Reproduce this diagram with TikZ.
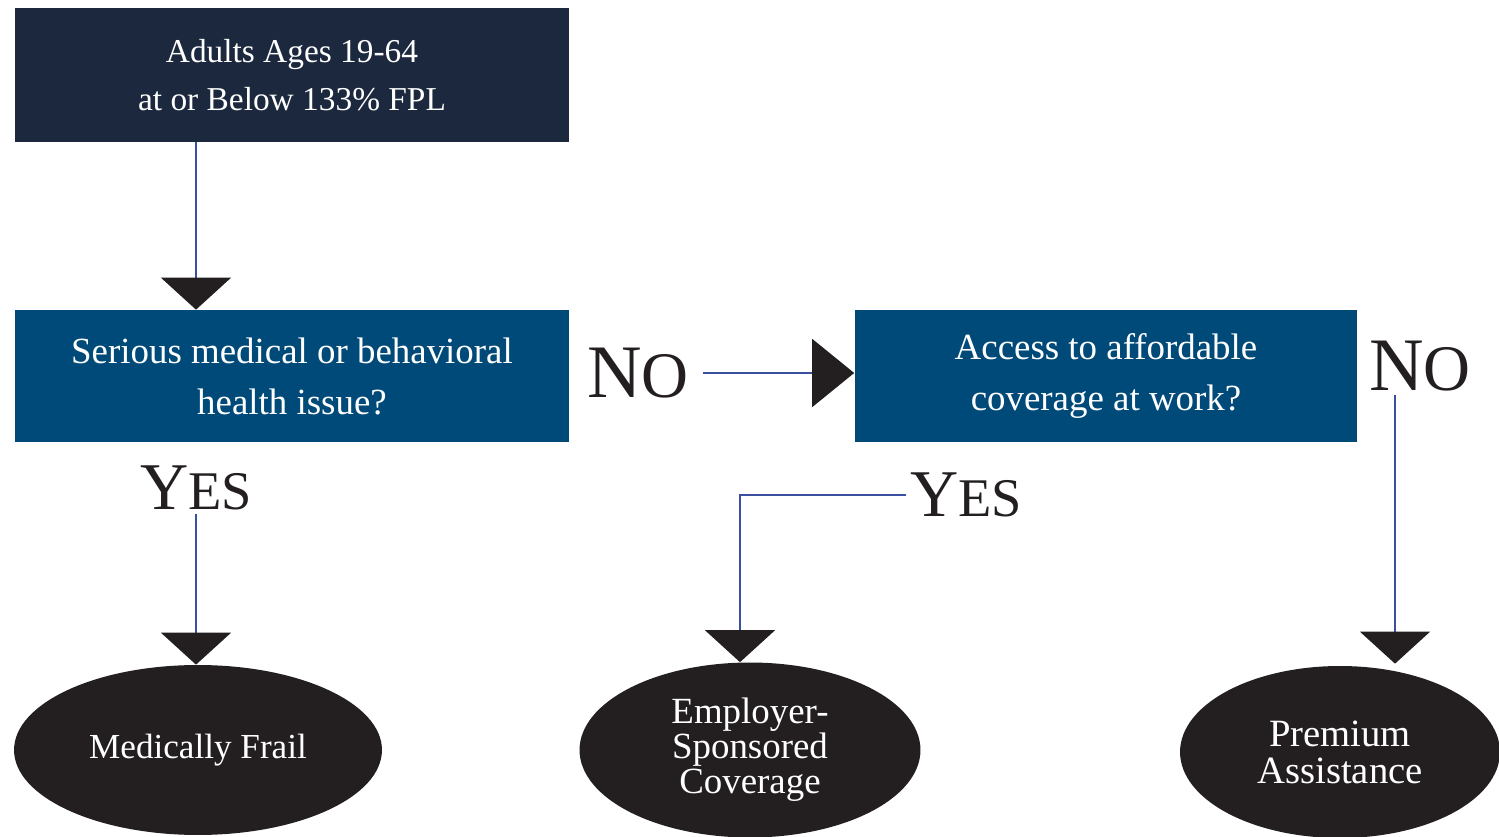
\documentclass[tikz,border=0pt]{standalone}
\usepackage{fontspec}
\setmainfont{Liberation Serif}
\usetikzlibrary{arrows.meta,shapes.geometric}
\definecolor{navy}{HTML}{1B283D}
\definecolor{cobalt}{HTML}{004A7A}
\definecolor{ink}{HTML}{231F20}
\definecolor{wire}{HTML}{3A4FA0}

% smaller capitals for the tail of an answer word
\newcommand\tailcaps[2]{{\fontsize{#1}{#1}\selectfont #2}}

\tikzset{
  topbox/.style={rectangle, fill=navy, text=white, align=center, inner sep=0pt,
    minimum width=11.08cm, minimum height=2.68cm, font=\fontsize{19}{27}\selectfont},
  askbox/.style={rectangle, fill=cobalt, text=white, align=center, inner sep=0pt,
    minimum height=2.64cm, font=\fontsize{21}{29}\selectfont},
  endnode/.style={ellipse, fill=ink, text=white, align=center, inner sep=0pt,
    font=\fontsize{21}{20}\selectfont},
  answer/.style={inner sep=2pt, text=ink, font=\fontsize{43}{43}\selectfont},
  flow/.style={wire, line width=0.8pt,
    -{Triangle[width=1.4cm,length=0.64cm,color=ink]}},
}

\begin{document}
\begin{tikzpicture}[x=0.02cm, y=-0.02cm]
  \useasboundingbox (0,0) rectangle (1499,837);

  % Start and questions
  \node[topbox] (adults) at (292,75) {Adults Ages 19-64\\at or Below 133\% FPL};
  \node[askbox, minimum width=11.08cm] (illness) at (292,376)
    {Serious medical or behavioral\\health issue?};
  \node[askbox, minimum width=10.06cm] (access) at (1106,376)
    {Access to affordable\\coverage at work?};

  % Outcomes
  \node[endnode, minimum width=7.36cm, minimum height=3.4cm,
    font=\fontsize{20}{20}\selectfont] (frail) at (198,750) {Medically Frail};
  \node[endnode, minimum width=6.82cm, minimum height=3.5cm] (employer) at (750,750)
    {Employer-\\Sponsored\\Coverage};
  \node[endnode, minimum width=6.4cm, minimum height=3.44cm,
    font=\fontsize{22}{21}\selectfont] (premium) at (1340,752) {Premium\\Assistance};

  % Answers
  \node[answer] (noA) at (638,373) {N\tailcaps{37}{O}};
  \node[answer] (noB) at (1420,366) {N\tailcaps{37}{O}};
  \node[answer, font=\fontsize{38}{38}\selectfont] (yesA) at (196,488) {Y\tailcaps{31}{ES}};
  \node[answer, font=\fontsize{38}{38}\selectfont] (yesB) at (966,495) {Y\tailcaps{31}{ES}};

  % Connectors
  \draw[flow] (adults.south -| yesA) -- (yesA |- illness.north);
  \draw[flow, -{Triangle[width=1.36cm,length=0.84cm,color=ink]}]
    ([xshift=0.2cm]noA.east) -- (noA.east -| access.west);
  \draw[flow] (yesA.south) -- (yesA |- frail.north);
  \draw[flow] (yesB.west) -| ([xshift=-0.2cm]employer.north);
  \coordinate (drop) at ([xshift=-0.5cm]noB.south);
  \draw[flow] (drop) -- ([yshift=0.04cm]drop |- premium.north);
\end{tikzpicture}
\end{document}
